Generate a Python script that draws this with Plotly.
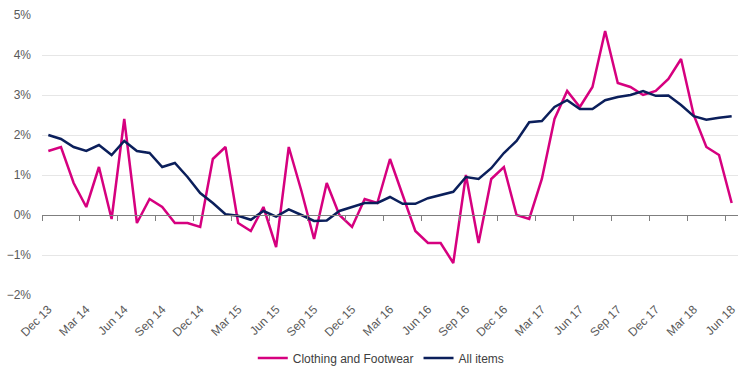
import plotly.graph_objects as go

tick_labels = ["Dec 13", "Mar 14", "Jun 14", "Sep 14", "Dec 14", "Mar 15", "Jun 15",
               "Sep 15", "Dec 15", "Mar 16", "Jun 16", "Sep 16", "Dec 16", "Mar 17",
               "Jun 17", "Sep 17", "Dec 17", "Mar 18", "Jun 18"]

# monthly values, Dec 13 .. Jun 18 (55 months)
clothing = [1.6, 1.7, 0.8, 0.2, 1.2, -0.1, 2.4, -0.2, 0.4, 0.2, -0.2, -0.2, -0.3,
            1.4, 1.7, -0.2, -0.4, 0.2, -0.8, 1.7, 0.6, -0.6, 0.8, 0.0, -0.3,
            0.4, 0.3, 1.4, 0.5, -0.4, -0.7, -0.7, -1.2, 1.0, -0.7, 0.9, 1.2,
            0.0, -0.1, 0.9, 2.4, 3.1, 2.7, 3.2, 4.6, 3.3, 3.2, 3.0, 3.1,
            3.4, 3.9, 2.5, 1.7, 1.5, 0.3]
all_items = [2.0, 1.9, 1.7, 1.6, 1.75, 1.5, 1.85, 1.6, 1.55, 1.2, 1.3, 0.95, 0.55,
             0.3, 0.02, -0.02, -0.12, 0.1, -0.04, 0.14, 0.0, -0.15, -0.14, 0.1, 0.2,
             0.3, 0.3, 0.45, 0.28, 0.28, 0.42, 0.5, 0.58, 0.95, 0.9, 1.17, 1.55,
             1.85, 2.32, 2.35, 2.7, 2.87, 2.65, 2.65, 2.87, 2.95, 3.0, 3.1, 2.98,
             2.99, 2.75, 2.47, 2.38, 2.43, 2.47]

x = list(range(len(clothing)))
label_pos = [i for i in x if i % 3 == 0]
boundary_pos = [i - 0.5 for i in label_pos]

fig = go.Figure()
# carrier trace (invisible) so the zero-line axis with its tick marks is drawn
fig.add_trace(go.Scatter(x=x, y=all_items, mode="lines", xaxis="x2", yaxis="y",
                         line=dict(color="rgba(0,0,0,0)", width=0), showlegend=False,
                         hoverinfo="skip"))
fig.add_trace(go.Scatter(x=x, y=clothing, mode="lines", name="Clothing and Footwear",
                         line=dict(color="#D6007F", width=2.5)))
fig.add_trace(go.Scatter(x=x, y=all_items, mode="lines", name="All items",
                         line=dict(color="#0B1F5B", width=2.5)))

font = dict(family="Liberation Sans, Arial, sans-serif", size=12, color="#595959")

fig.update_layout(
    width=755, height=378,
    margin=dict(l=42, r=17, t=15, b=83, autoexpand=False),
    paper_bgcolor="white", plot_bgcolor="white",
    font=font,
    showlegend=True,
    legend=dict(orientation="h", xref="container", x=0.505, xanchor="center",
                yref="container", y=0.053, yanchor="middle",
                font=dict(family="Liberation Sans, Arial, sans-serif", size=12, color="#404040")),
    xaxis=dict(range=[-0.5, len(x) - 0.5], tickvals=label_pos, ticktext=tick_labels,
               tickangle=-45, showgrid=False, zeroline=False, showline=False, ticks="",
               automargin=False, ticklabelstandoff=4),
    xaxis2=dict(overlaying="x", anchor="free", position=2 / 7,
                range=[-0.5, len(x) - 0.5], tickvals=boundary_pos, ticks="outside",
                ticklen=5, tickcolor="#7f7f7f", showticklabels=False, showgrid=False,
                zeroline=False, showline=True, linecolor="#7f7f7f", linewidth=1,
                automargin=False),
    yaxis=dict(range=[-2, 5], dtick=1, ticksuffix="%", showgrid=True,
               gridcolor="#e6e6e6", gridwidth=1, zeroline=False, showline=False,
               ticks="", ticklen=0, automargin=False, ticklabelstandoff=10),
)

fig.write_html("out.html", config={"displayModeBar": False},
               post_script="document.body.style.margin='0';document.body.style.padding='0';")
